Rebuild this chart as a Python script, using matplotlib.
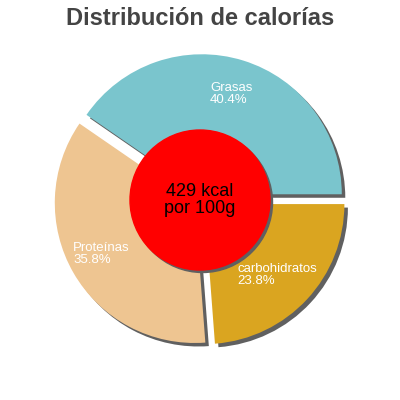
import matplotlib
matplotlib.use("Agg")
import matplotlib.pyplot as plt
from matplotlib.patches import Circle

plt.rcParams['font.family'] = ['Liberation Sans', 'DejaVu Sans']

# datos
nombres = ['Grasas', 'Proteínas', 'carbohidratos']
porcentajes = [40.4, 35.8, 23.8]
colores = ['#7AC5CD', '#EEC591', '#DAA520']
titulo = 'Distribución de calorías'
texto_centro = '429 kcal\npor 100g'

# posiciones de las etiquetas (borde izquierdo, centro vertical)
pos_etiquetas = [(210, 306), (73, 146), (237, 125)]

fig = plt.figure(figsize=(4, 4), dpi=100)
ax = fig.add_axes([0, 0, 1, 1])

radio = 140
# en matplotlib el desplazamiento va en unidades de datos
explode = [6] * len(porcentajes)

# sombra
ax.pie(porcentajes, colors=['#606060'] * len(porcentajes), startangle=0,
       counterclock=True, radius=radio, center=(203.5, 196.5), explode=explode,
       frame=True)
# tarta
ax.pie(porcentajes, colors=colores, startangle=0, counterclock=True,
       radius=radio, center=(200, 200), explode=explode, frame=True)
ax.set_xlim(0, 400)
ax.set_ylim(0, 400)
ax.set_aspect('equal')
ax.axis('off')

# círculo central con sombra
ax.add_patch(Circle((202.5, 197.5), 70, color='#606060', zorder=3))
ax.add_patch(Circle((200, 200), 70, color='#FF0000', zorder=4))
ax.text(200, 200, texto_centro, ha='center', va='center', fontsize=13,
        color='black', linespacing=1.0, zorder=5)

for nombre, p, (x, y) in zip(nombres, porcentajes, pos_etiquetas):
    ax.text(x, y, f'{nombre}\n{p}%', ha='left', va='center', fontsize=9.5,
            color='white', linespacing=0.95, zorder=5)

ax.text(200, 375, titulo, ha='center', va='baseline', fontsize=17,
        fontweight='bold', color='#444444')

fig.savefig('out.png', dpi=100)
